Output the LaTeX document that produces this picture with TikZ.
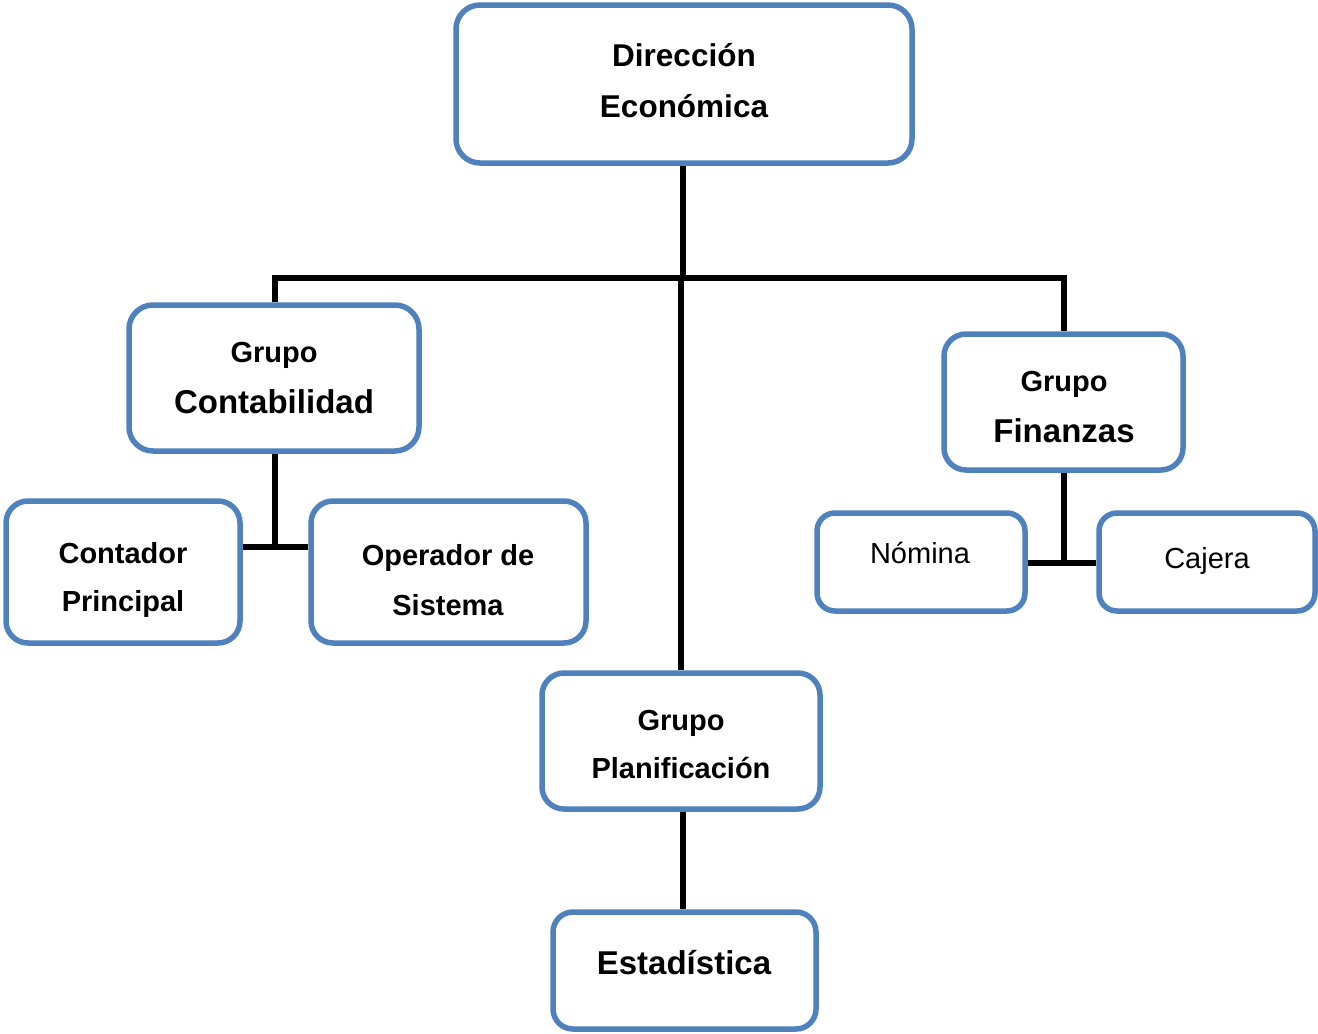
\documentclass[tikz,border=0pt]{standalone}
\usepackage{fontspec}
\setmainfont{Liberation Sans}
\usetikzlibrary{backgrounds}
\tikzset{
  box/.style={draw=boxblue, line width=5.5pt, fill=white, rounded corners=24pt, inner sep=0pt, shape=rectangle},
  conn/.style={draw=black, line width=6pt},
  lbl/.style={anchor=base, inner sep=0pt, font=\bfseries\fontsize{29}{29}\selectfont},
  lblbig/.style={anchor=base, inner sep=0pt, font=\bfseries\fontsize{33}{33}\selectfont},
  lbltop/.style={anchor=base, inner sep=0pt, font=\bfseries\fontsize{31.5}{31.5}\selectfont},
  lblgrp/.style={anchor=base, inner sep=0pt, font=\bfseries\fontsize{29}{29}\selectfont},
  lblreg/.style={anchor=base, inner sep=0pt, font=\fontsize{29}{29}\selectfont},
}
\definecolor{boxblue}{HTML}{4F81BD}
\begin{document}
\begin{tikzpicture}[x=1pt,y=-1pt]
\useasboundingbox (0,0) rectangle (1318,1034);
% boxes
\node[box, minimum width=456pt, minimum height=158pt] (dir) at (684,84) {};
\node[box, minimum width=290pt, minimum height=146pt] (contab) at (274,378) {};
\node[box, minimum width=234pt, minimum height=142pt, rounded corners=22pt] (contador) at (123,572) {};
\node[box, minimum width=275pt, minimum height=142pt, rounded corners=22pt] (operador) at (448.5,572) {};
\node[box, minimum width=239pt, minimum height=136pt, rounded corners=22pt] (fin) at (1063.5,402) {};
\node[box, minimum width=208pt, minimum height=98pt, rounded corners=18pt] (nomina) at (921,562) {};
\node[box, minimum width=216pt, minimum height=98pt, rounded corners=18pt] (cajera) at (1207,562) {};
\node[box, minimum width=278pt, minimum height=136pt, rounded corners=22pt] (planif) at (681,741) {};
\node[box, minimum width=263pt, minimum height=117pt, rounded corners=20pt] (estad) at (684.5,970.5) {};
% texts
\node[lbltop] (t1a) at (684,66) {Dirección};
\node[lbltop] (t1b) at (684,117) {Económica};
\node[lblgrp] (t2a) at (274,362) {Grupo};
\node[lblbig] (t2b) at (274,413) {Contabilidad};
\node[lbl] (t3a) at (123,563) {Contador};
\node[lbl] (t3b) at (123,611) {Principal};
\node[lbl] (t4a) at (448,565) {Operador de};
\node[lbl] (t4b) at (448,615) {Sistema};
\node[lblgrp] (t5a) at (1064,391) {Grupo};
\node[lblbig] (t5b) at (1064,442) {Finanzas};
\node[lblreg] (t6) at (920,563) {Nómina};
\node[lblreg] (t7) at (1207,568) {Cajera};
\node[lblgrp] (t8a) at (681,730) {Grupo};
\node[lbl] (t8b) at (681,778) {Planificación};
\node[lblbig] (t9) at (684,974) {Estadística};
% junctions
\coordinate (j1) at (683,278);
\coordinate (j2) at (275,547);
\coordinate (j3) at (1064,563);
\begin{scope}[on background layer]
\draw[conn] (contab.north -| j2) |- (j1) -| (fin.north);
\draw[conn] (dir.south -| j1) -- (j1);
\draw[conn] (planif.north) -- (planif.north |- j1);
\draw[conn] (contab.south -| j2) -- (j2);
\draw[conn] (contador.east |- j2) -- (operador.west |- j2);
\draw[conn] (fin.south -| j3) -- (j3);
\draw[conn] (nomina.east |- j3) -- (cajera.west |- j3);
\draw[conn] (planif.south -| j1) -- (estad.north -| j1);
\end{scope}
\end{tikzpicture}
\end{document}
